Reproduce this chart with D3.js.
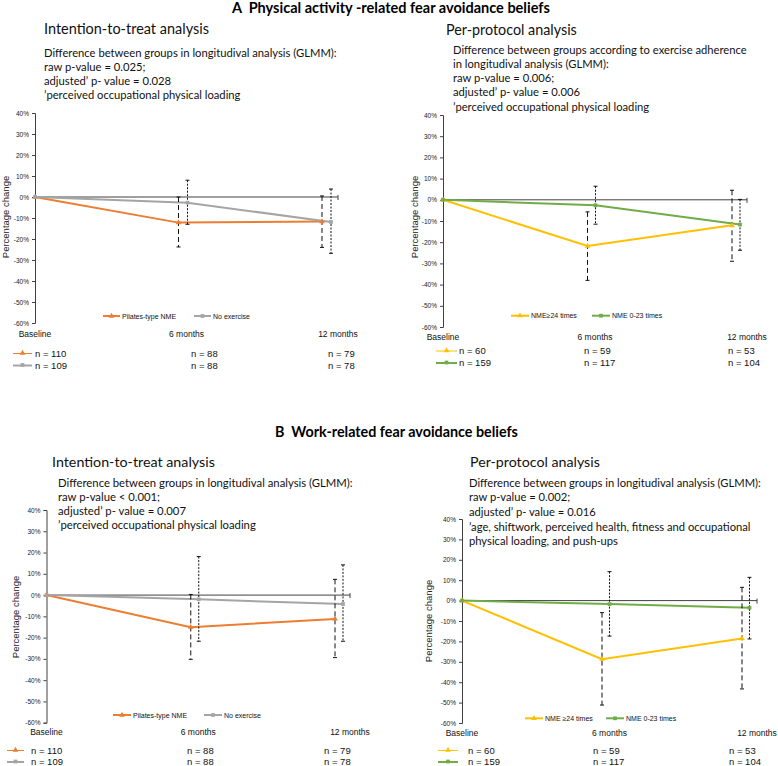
<!DOCTYPE html>
<html>
<head>
<meta charset="utf-8">
<script src="https://cdn.jsdelivr.net/npm/d3@7"></script>
<style>
  html, body { margin: 0; padding: 0; background: #fff; }
  svg { display: block; }
  text { white-space: pre; }
</style>
</head>
<body>
<svg id="chart" width="778" height="766"></svg>
<script>
// ---------------- DATA ----------------
const categories = ["Baseline", "6 months", "12 months"];
const yTicks = [40, 30, 20, 10, 0, -10, -20, -30, -40, -50, -60];

const ittGroups = ["Pilates-type NME", "No exercise"];
const ppGroupsA = ["NME\u226524 times", "NME 0-23 times"];
const ppGroupsB = ["NME \u226524 times", "NME 0-23 times"];

// A: Physical activity-related fear avoidance beliefs, intention-to-treat
const aIttPilatesMean = [0, -12.2, -11.7];
const aIttPilatesLow  = [null, -23.8, -24.0];
const aIttPilatesHigh = [null, 0.0, 0.5];
const aIttNoExMean    = [0, -2.7, -11.9];
const aIttNoExLow     = [null, -13.0, -26.8];
const aIttNoExHigh    = [null, 8.0, 3.8];
const aIttPilatesN    = [110, 88, 79];
const aIttNoExN       = [109, 88, 78];

// A: per-protocol
const aPpHighMean = [0, -21.8, -12.0];
const aPpHighLow  = [null, -38.0, -29.0];
const aPpHighHigh = [null, -5.7, 4.5];
const aPpLowMean  = [0, -2.6, -11.7];
const aPpLowLow   = [null, -11.5, -23.8];
const aPpLowHigh  = [null, 6.4, 0.2];
const aPpHighN    = [60, 59, 53];
const aPpLowN     = [159, 117, 104];

// B: Work-related fear avoidance beliefs, intention-to-treat
const bIttPilatesMean = [0, -15.1, -11.2];
const bIttPilatesLow  = [null, -30.2, -29.4];
const bIttPilatesHigh = [null, 0.3, 7.4];
const bIttNoExMean    = [0, -2.0, -4.2];
const bIttNoExLow     = [null, -21.7, -21.7];
const bIttNoExHigh    = [null, 18.1, 14.2];
const bIttPilatesN    = [110, 88, 79];
const bIttNoExN       = [109, 88, 78];

// B: per-protocol
const bPpHighMean = [0, -28.7, -18.6];
const bPpHighLow  = [null, -51.2, -43.3];
const bPpHighHigh = [null, -5.9, 6.5];
const bPpLowMean  = [0, -1.7, -3.5];
const bPpLowLow   = [null, -17.4, -18.8];
const bPpLowHigh  = [null, 14.2, 11.4];
const bPpHighN    = [60, 59, 53];
const bPpLowN     = [159, 117, 104];

const headerA = "A  Physical activity -related fear avoidance beliefs";
const headerB = "B  Work-related fear avoidance beliefs";

const aIttTitle = "Intention-to-treat analysis";
const aIttNotes = ["Difference between groups in longitudival analysis (GLMM):",
  "raw p-value = 0.025;", "adjusted\u2019 p- value = 0.028", "\u2019perceived occupational physical loading"];
const aPpTitle = "Per-protocol analysis";
const aPpNotes = ["Difference between groups according to exercise adherence",
  "in longitudival analysis (GLMM):", "raw p-value = 0.006;", "adjusted\u2019 p- value = 0.006",
  "\u2019perceived occupational physical loading"];
const bIttTitle = "Intention-to-treat analysis";
const bIttNotes = ["Difference between groups in longitudival analysis (GLMM):",
  "raw p-value < 0.001;", "adjusted\u2019 p- value = 0.007", "\u2019perceived occupational physical loading"];
const bPpTitle = "Per-protocol analysis";
const bPpNotes = ["Difference between groups in longitudival analysis (GLMM):",
  "raw p-value = 0.002;", "adjusted\u2019 p- value = 0.016",
  "\u2019age, shiftwork, perceived health, fitness and occupational",
  "physical loading, and push-ups"];

// ---------------- STYLE / LAYOUT ----------------
const COL = { orange: "#ED7D31", gray: "#A5A5A5", yellow: "#FFC000", green: "#70AD47" };
const HEAD_FONT = "Lato, 'Open Sans', sans-serif";
const SMALL_FONT = "'Liberation Sans', Arial, sans-serif";

const svg = d3.select("#chart");

function fitBlock(sel, target) {
  // scale font-size so that the first line has the target width
  const node = sel.nodes()[0];
  const w = node.getComputedTextLength();
  const fs = parseFloat(d3.select(node).attr("font-size"));
  sel.attr("font-size", fs * target / w);
}

function header(text, x, y, w) {
  const t = svg.append("text").attr("x", x).attr("y", y)
    .attr("font-family", HEAD_FONT).attr("font-weight", "bold")
    .attr("font-size", 14).attr("fill", "#000").text(text);
  fitBlock(t, w);
}

function drawPanel(p) {
  const g = svg.append("g");

  // Title + notes
  const t = g.append("text").attr("x", p.titleX).attr("y", p.titleY)
    .attr("font-family", HEAD_FONT).attr("font-size", 16).attr("fill", "#111").text(p.title);
  fitBlock(t, p.titleW);
  const notes = g.selectAll(".note").data(p.notes).enter().append("text")
    .attr("class", "note")
    .attr("x", p.notesX)
    .attr("y", (d, i) => p.notesY + i * p.notesDy)
    .attr("font-family", HEAD_FONT).attr("font-size", 12).attr("fill", "#111")
    .text(d => d);
  fitBlock(notes, p.notesW);

  const y = d3.scaleLinear().domain([-60, 40]).range([p.yBottom, p.yTop]);
  const x = d3.scaleLinear().domain([0, 2]).range([p.x0, p.x2]);
  const xl = d3.scaleLinear().domain([0, 2]).range([p.x0, p.xEnd]);

  // Y axis
  const yAxis = d3.axisLeft(y).tickValues(yTicks).tickSize(3).tickPadding(3)
    .tickFormat(d => d + "%");
  const ya = g.append("g").attr("transform", `translate(${p.x0},0)`).call(yAxis);
  ya.select(".domain").attr("stroke", "#404040");
  ya.selectAll(".tick line").attr("stroke", "#404040");
  ya.selectAll(".tick text").attr("font-family", SMALL_FONT).attr("font-size", 6.5).attr("fill", "#222");

  // zero line (category axis)
  g.append("line").attr("x1", p.x0).attr("x2", p.xEnd)
    .attr("y1", y(0)).attr("y2", y(0)).attr("stroke", "#404040").attr("stroke-width", 1);
  g.append("line").attr("x1", p.xEnd).attr("x2", p.xEnd)
    .attr("y1", y(0) - 2).attr("y2", y(0) + 3).attr("stroke", "#404040").attr("stroke-width", 1);

  // Y title
  g.append("text")
    .attr("transform", `translate(${p.yTitleX},${p.yTitleY}) rotate(-90)`)
    .attr("text-anchor", "middle")
    .attr("font-family", SMALL_FONT).attr("font-size", 9.5).attr("fill", "#222")
    .text("Percentage change");

  // category labels
  g.selectAll(".cat").data(categories).enter().append("text")
    .attr("x", (d, i) => xl(i)).attr("y", p.catY)
    .attr("text-anchor", "middle")
    .attr("font-family", SMALL_FONT).attr("font-size", 8.5).attr("fill", "#111")
    .text(d => d);

  const px = (i, s) => x(i) + (i > 0 ? s * p.offset : 0);
  const line = s => d3.line().x((d, i) => px(i, s)).y(d => y(d));

  p.series.forEach((s, si) => {
    g.append("path").datum(s.mean)
      .attr("d", line(si))
      .attr("fill", "none").attr("stroke", s.color).attr("stroke-width", 2);
  });

  // error bars
  p.series.forEach((s, si) => {
    [1, 2].forEach(i => {
      const xx = px(i, si);
      g.append("line").attr("x1", xx).attr("x2", xx)
        .attr("y1", y(s.high[i])).attr("y2", y(s.low[i]))
        .attr("stroke", "#111").attr("stroke-width", 1)
        .attr("stroke-dasharray", si === 0 ? "5,3" : "2,1.5");
      [s.high[i], s.low[i]].forEach(v => {
        g.append("line").attr("x1", xx - 2).attr("x2", xx + 2)
          .attr("y1", y(v)).attr("y2", y(v)).attr("stroke", "#111").attr("stroke-width", 1);
      });
    });
  });

  // markers
  const tri = d3.symbol().type(d3.symbolTriangle).size(14);
  const sq = d3.symbol().type(d3.symbolSquare).size(14);
  p.series.forEach((s, si) => {
    g.selectAll(null).data(s.mean).enter().append("path")
      .attr("d", si === 0 ? tri : sq)
      .attr("transform", (d, i) => `translate(${px(i, si)},${y(d)})`)
      .attr("fill", s.color);
  });

  // in-chart legend
  p.series.forEach((s, si) => {
    const lx = p.legX[si];
    g.append("line").attr("x1", lx).attr("x2", lx + p.legLen)
      .attr("y1", p.legY).attr("y2", p.legY).attr("stroke", s.color).attr("stroke-width", 2);
    g.append("path").attr("d", si === 0 ? tri : sq)
      .attr("transform", `translate(${lx + p.legLen / 2},${p.legY})`).attr("fill", s.color);
    g.append("text").attr("x", lx + p.legLen + 2).attr("y", p.legY + 2.5)
      .attr("font-family", SMALL_FONT).attr("font-size", 7).attr("fill", "#111")
      .text(s.name);
  });

  // n rows
  p.series.forEach((s, si) => {
    const ry = p.nY[si];
    g.append("line").attr("x1", p.nLine[0]).attr("x2", p.nLine[1])
      .attr("y1", ry - 3).attr("y2", ry - 3).attr("stroke", s.color).attr("stroke-width", si === 0 ? 1 : 2);
    g.append("path").attr("d", si === 0 ? tri : sq)
      .attr("transform", `translate(${(p.nLine[0] + p.nLine[1]) / 2},${ry - 3.5})`)
      .attr("fill", s.color);
    g.selectAll(null).data(s.n).enter().append("text")
      .attr("x", (d, i) => p.nX[i]).attr("y", ry)
      .attr("font-family", SMALL_FONT).attr("font-size", 9.5).attr("fill", "#111")
      .text(d => "n = " + d);
  });
}

header(headerA, 232, 13, 318);
header(headerB, 275, 437, 243);

drawPanel({
  title: aIttTitle, titleX: 44, titleY: 33.5, titleW: 165,
  notes: aIttNotes, notesX: 44, notesY: 56.5, notesDy: 14, notesW: 293,
  x0: 35, x2: 322, xEnd: 338, offset: 9, yTop: 113, yBottom: 323,
  yTitleX: 9, yTitleY: 217, catY: 337,
  legX: [103, 194], legLen: 17, legY: 316,
  nY: [356.5, 368.5], nLine: [13, 32], nX: [35, 191, 328],
  series: [
    { name: ittGroups[0], color: COL.orange, mean: aIttPilatesMean, low: aIttPilatesLow, high: aIttPilatesHigh, n: aIttPilatesN },
    { name: ittGroups[1], color: COL.gray, mean: aIttNoExMean, low: aIttNoExLow, high: aIttNoExHigh, n: aIttNoExN }
  ]
});

drawPanel({
  title: aPpTitle, titleX: 446, titleY: 35, titleW: 131,
  notes: aPpNotes, notesX: 453, notesY: 53.5, notesDy: 14.3, notesW: 294,
  x0: 443, x2: 732, xEnd: 747, offset: 8, yTop: 115, yBottom: 327,
  yTitleX: 418, yTitleY: 217, catY: 340,
  legX: [511, 592], legLen: 18, legY: 315.7,
  nY: [354, 366], nLine: [436, 457], nX: [459, 584, 728],
  series: [
    { name: ppGroupsA[0], color: COL.yellow, mean: aPpHighMean, low: aPpHighLow, high: aPpHighHigh, n: aPpHighN },
    { name: ppGroupsA[1], color: COL.green, mean: aPpLowMean, low: aPpLowLow, high: aPpLowHigh, n: aPpLowN }
  ]
});

drawPanel({
  title: bIttTitle, titleX: 52, titleY: 467, titleW: 163,
  notes: bIttNotes, notesX: 58, notesY: 486.5, notesDy: 14, notesW: 295,
  x0: 46.5, x2: 335, xEnd: 350, offset: 8, yTop: 510, yBottom: 722.7,
  yTitleX: 19, yTitleY: 617, catY: 735,
  legX: [113, 204], legLen: 18, legY: 715,
  nY: [753.5, 765], nLine: [7, 24], nX: [31, 187, 324],
  series: [
    { name: ittGroups[0], color: COL.orange, mean: bIttPilatesMean, low: bIttPilatesLow, high: bIttPilatesHigh, n: bIttPilatesN },
    { name: ittGroups[1], color: COL.gray, mean: bIttNoExMean, low: bIttNoExLow, high: bIttNoExHigh, n: bIttNoExN }
  ]
});

drawPanel({
  title: bPpTitle, titleX: 470, titleY: 467, titleW: 130,
  notes: bPpNotes, notesX: 469, notesY: 486.5, notesDy: 14.7, notesW: 292,
  x0: 462, x2: 742, xEnd: 757, offset: 7.5, yTop: 519, yBottom: 723,
  yTitleX: 432, yTitleY: 621, catY: 736,
  legX: [525, 606], legLen: 18, legY: 718.3,
  nY: [753.5, 765], nLine: [438, 458], nX: [468, 593, 729],
  series: [
    { name: ppGroupsB[0], color: COL.yellow, mean: bPpHighMean, low: bPpHighLow, high: bPpHighHigh, n: bPpHighN },
    { name: ppGroupsB[1], color: COL.green, mean: bPpLowMean, low: bPpLowLow, high: bPpLowHigh, n: bPpLowN }
  ]
});
</script>
</body>
</html>
